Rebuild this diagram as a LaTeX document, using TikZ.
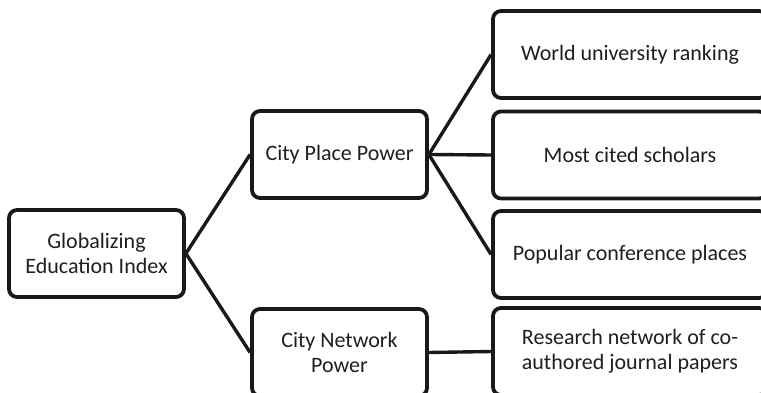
\documentclass[tikz,border=0pt]{standalone}
\usepackage{fontspec}
\setmainfont{Carlito}
\begin{document}
\begin{tikzpicture}[x=1pt,y=-1pt,
  box/.style={draw=black!90, line width=3.8pt, rounded corners=8pt, fill=white, align=center, inner sep=0pt, font=\fontsize{22}{25}\selectfont, text=black!88},
  midbox/.style={box, minimum width=175pt, minimum height=87pt},
  leafbox/.style={box, minimum width=274pt, minimum height=87pt},
  link/.style={draw=black!90, line width=3.4pt}]
\useasboundingbox (0,0) rectangle (761,393);
\clip (0,0) rectangle (761,393);
\node[midbox] (root) at (96.5,253.5) {Globalizing\\Education Index};
\node[midbox] (cpp) at (339.5,154.5) {City Place Power};
\node[midbox] (cnp) at (339.5,352.5) {City Network\\Power};
\node[leafbox] (w) at (630,54.5) {World university ranking};
\node[leafbox] (m) at (630,155) {Most cited scholars};
\node[leafbox] (p) at (630,254.5) {Popular conference places};
\node[leafbox] (r) at (630,351.5) {Research network of co-\\authored journal papers};
\draw[link] (root.east) -- (cpp.west);
\draw[link] (root.east) -- (cnp.west);
\draw[link] (cpp.east) -- (w.west);
\draw[link] (cpp.east) -- (m.west);
\draw[link] (cpp.east) -- (p.west);
\draw[link] (cnp.east) -- (r.west);
\end{tikzpicture}
\end{document}
